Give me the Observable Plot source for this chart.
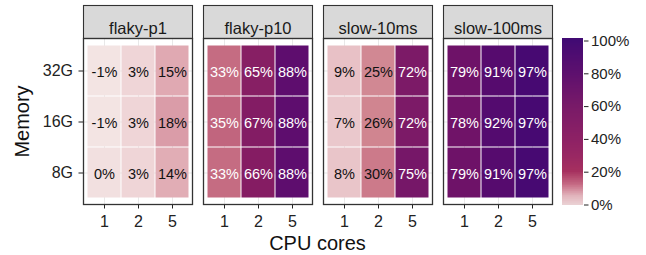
<!DOCTYPE html>
<html>
<head>
<meta charset="utf-8">
<script src="https://cdn.jsdelivr.net/npm/d3@7"></script>
<script src="https://cdn.jsdelivr.net/npm/@observablehq/plot@0.6"></script>
<style>
  html, body { margin: 0; padding: 0; background: #fff; }
  #wrap { position: relative; width: 646px; height: 255px; overflow: hidden; }
  #wrap > svg, #wrap > figure { position: absolute; top: 0; margin: 0; }
</style>
</head>
<body>
<div id="wrap"></div>
<script>
// ---- data ----
const tests = ["flaky-p1", "flaky-p10", "slow-10ms", "slow-100ms"];
const cores = ["1", "2", "5"];
const memory = ["32G", "16G", "8G"];
// rows follow `memory`, columns follow `cores` (percent)
const flakyP1   = [[-1, 3, 15], [-1, 3, 18], [0, 3, 14]];
const flakyP10  = [[33, 65, 88], [35, 67, 88], [33, 66, 88]];
const slow10ms  = [[9, 25, 72], [7, 26, 72], [8, 30, 75]];
const slow100ms = [[79, 91, 97], [78, 92, 97], [79, 91, 97]];
const legendTicks = [0, 0.2, 0.4, 0.6, 0.8, 1];

// colour ramp (tiles)
const tileStops  = [-0.01, 0.03, 0.08, 0.15, 0.18, 0.26, 0.30, 0.34, 0.66, 0.73, 0.79, 0.88, 0.91, 0.97];
const tileColors = ["#f3e4e3", "#efd5d7", "#e9c5c9", "#e0a9b2", "#da9ca8", "#d08590", "#cc7a8a", "#c3677f", "#851c63", "#7a1a68", "#6e1268", "#5e0d6e", "#560b6e", "#470972"];
// colour ramp (legend bar)
const legStops  = [0, 0.05, 0.12, 0.2, 0.3, 0.4, 0.6, 0.8, 1.0];
const legColors = ["#ead0d3", "#e2b5bd", "#c66b85", "#a6305f", "#982763", "#8d2165", "#781a68", "#5d106e", "#410a73"];

const matrices = [flakyP1, flakyP10, slow10ms, slow100ms];
const data = [];
tests.forEach((t, i) => memory.forEach((m, r) => cores.forEach((c, k) => {
  data.push({test: t, mem: m, cores: c, value: matrices[i][r][k] / 100});
})));

const font = "'Liberation Sans', Arial, Helvetica, sans-serif";
const pct = d3.formatLocale({decimal: ".", thousands: ",", grouping: [3], currency: ["", ""], minus: "-"}).format(".0%");
const W = 560, H = 255, mT = 38, mB = 51, panelH = H - mT - mB;

const main = Plot.plot({
  width: W, height: H,
  marginTop: mT, marginBottom: mB, marginLeft: 83, marginRight: 8,
  style: {fontFamily: font, fontSize: "16px", color: "#222", background: "transparent"},
  fx: {domain: tests, paddingInner: 0.0917, paddingOuter: 0, axis: null, label: null},
  x: {domain: cores, paddingInner: 0, paddingOuter: 0.087, tickSize: 4.5, tickPadding: 6.5, label: null, grid: true},
  y: {domain: memory, paddingInner: 0, paddingOuter: 0.106, tickSize: 4.5, tickPadding: 6, label: null, grid: true},
  color: {type: "linear", domain: tileStops, range: tileColors, interpolate: "lab"},
  marks: [
    Plot.frame({fill: "#d9d9d9", stroke: "#333", strokeWidth: 1.1, insetTop: -33, insetBottom: panelH}),
    Plot.text(tests, {fx: d => d, text: d => d, frameAnchor: "top", dy: -16, fontSize: 16.5, fill: "#1a1a1a"}),
    Plot.cell(data, {fx: "test", x: "cores", y: "mem", fill: "value", inset: 0.5}),
    Plot.text(data.filter(d => d.value < 0.31), {fx: "test", x: "cores", y: "mem", text: d => pct(d.value), fill: "#111", fontSize: 14.5, dy: 1.5}),
    Plot.text(data.filter(d => d.value >= 0.31), {fx: "test", x: "cores", y: "mem", text: d => pct(d.value), fill: "#fff", fontSize: 14.5, dy: 1.5}),
    Plot.frame({stroke: "#333", strokeWidth: 1.3})
  ]
});
main.style.left = "0px";
document.getElementById("wrap").appendChild(main);

const step = 0.004;
const ramp = d3.range(0, 1.012, step);
const legend = Plot.plot({
  width: 106, height: H,
  marginTop: 40.5, marginBottom: 50.5, marginLeft: 22, marginRight: 63,
  style: {fontFamily: font, fontSize: "15px", color: "#222", background: "transparent"},
  x: {domain: [0, 1], axis: null},
  y: {domain: [0, 1], axis: "right", ticks: legendTicks, tickFormat: pct, tickSize: 4.5, tickPadding: 3, label: null},
  color: {type: "linear", domain: legStops, range: legColors, interpolate: "lab"},
  marks: [
    Plot.rect(ramp, {x1: 0, x2: 1, y1: d => d, y2: d => d + step + 0.002, fill: d => Math.min(1, d), shapeRendering: "crispEdges"})
  ]
});
legend.style.left = "540px";
document.getElementById("wrap").appendChild(legend);

// axis titles
const ov = d3.create("svg").attr("width", 646).attr("height", H)
  .style("left", "0px").style("pointer-events", "none")
  .style("font-family", font);
ov.append("text").attr("x", 317.5).attr("y", 249.5).attr("text-anchor", "middle")
  .attr("font-size", 20).attr("fill", "#111").text("CPU cores");
ov.append("text").attr("transform", "translate(29,121.5) rotate(-90)").attr("text-anchor", "middle")
  .attr("font-size", 20).attr("fill", "#111").text("Memory");
document.getElementById("wrap").appendChild(ov.node());
</script>
</body>
</html>
